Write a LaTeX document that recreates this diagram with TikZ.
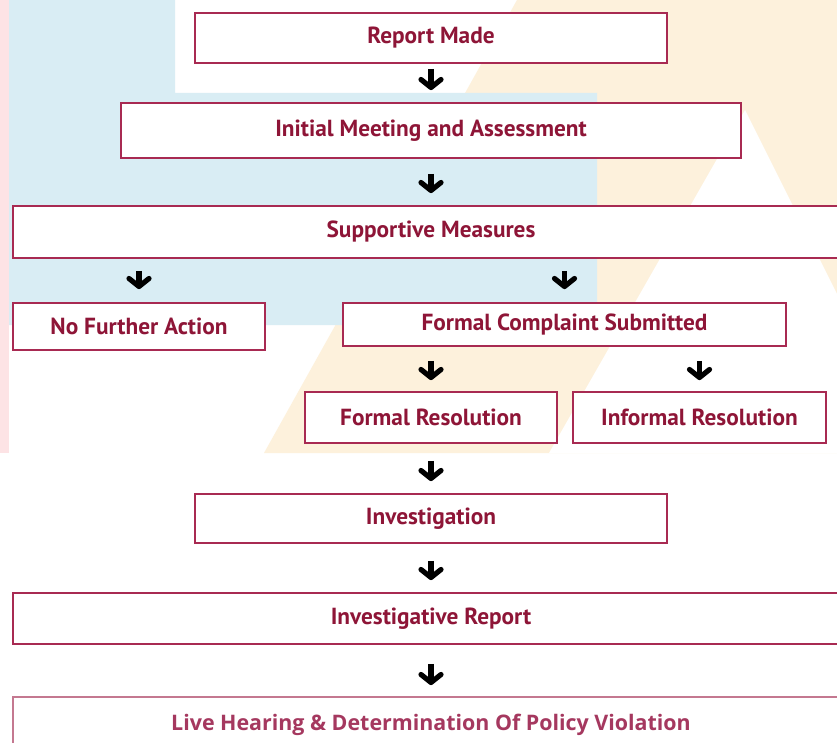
\documentclass[tikz,border=0pt]{standalone}
\usepackage{fontspec}
\setmainfont{PT Sans}
\newfontfamily\lhfont{Open Sans}
\usetikzlibrary{arrows.meta}
\definecolor{maroon}{HTML}{8E1537}
\definecolor{boxline}{HTML}{A82A52}
\definecolor{lhline}{HTML}{C47890}
\definecolor{lhtext}{HTML}{A5385F}
\definecolor{bgblue}{HTML}{D9EDF4}
\definecolor{bgbeige}{HTML}{FDF1DC}
\definecolor{bgpink}{HTML}{FDE3E5}
\tikzset{
  box/.style={draw=boxline, line width=1.8pt, fill=white, rectangle, inner sep=0pt,
    text=maroon, font=\fontsize{23.3}{27}\selectfont\bfseries},
  lhbox/.style={box, draw=lhline, text=lhtext, font=\lhfont\fontsize{21.4}{25}\selectfont\bfseries},
  arr/.style={line width=5.2pt, -{Straight Barb[length=8pt,width=20pt,line cap=round,line join=round]}}
}
\begin{document}
\begin{tikzpicture}[x=1pt,y=-1pt]
\useasboundingbox (0,0) rectangle (837,743);
% background
\fill[white] (0,0) rectangle (837,743);
\fill[bgbeige] (517,0) -- (837,0) -- (837,453) -- (264,453) -- cycle;
\fill[white] (745,110) -- (837,294) -- (837,453) -- (549,453) -- cycle;
\fill[bgblue] (9,0) -- (175,0) -- (175,93) -- (597,93) -- (597,325) -- (9,325) -- cycle;
\fill[bgpink] (0,0) rectangle (9,453);
% boxes
\node[box, minimum width=472pt, minimum height=50pt] (report) at (431,38) {Report Made};
\node[box, minimum width=620pt, minimum height=55pt] (initial) at (431,130.5) {Initial Meeting and Assessment};
\node[box, minimum width=836pt, minimum height=52pt] (supp) at (431,232) {Supportive Measures};
\node[box, minimum width=252pt, minimum height=47pt] (nfa) at (139,326.5) {No Further Action};
\node[box, minimum width=443pt, minimum height=43pt] (fcs) at (564.5,324.5) {Formal Complaint Submitted};
\node[box, minimum width=252pt, minimum height=51pt] (fres) at (431,417.5) {Formal Resolution};
\node[box, minimum width=253pt, minimum height=51pt] (ires) at (699.5,417.5) {Informal Resolution};
\node[box, minimum width=472pt, minimum height=49pt] (inv) at (431,518.5) {Investigation};
\node[box, minimum width=836pt, minimum height=51pt] (irep) at (431,618.5) {Investigative Report};
\node[lhbox, minimum width=836pt, minimum height=56pt] (live) at (431,725) {Live Hearing \& Determination Of Policy Violation};
% arrows
\draw[arr, shorten <=5pt, shorten >=12pt] (report.south) -- (initial.north);
\draw[arr, shorten <=15pt, shorten >=12pt] (initial.south) -- (supp.north);
\draw[arr, shorten <=12pt, shorten >=13pt] (nfa.north |- supp.south) -- (nfa.north);
\draw[arr, shorten <=12pt, shorten >=13pt] (fcs.north |- supp.south) -- (fcs.north);
\draw[arr, shorten <=14pt, shorten >=11pt] (fres.north |- fcs.south) -- (fres.north);
\draw[arr, shorten <=14pt, shorten >=11pt] (ires.north |- fcs.south) -- (ires.north);
\draw[arr, shorten <=17pt, shorten >=12pt] (fres.south) -- (inv.north);
\draw[arr, shorten <=17pt, shorten >=12pt] (inv.south) -- (irep.north);
\draw[arr, shorten <=19pt, shorten >=11pt] (irep.south) -- (live.north);
\end{tikzpicture}
\end{document}
